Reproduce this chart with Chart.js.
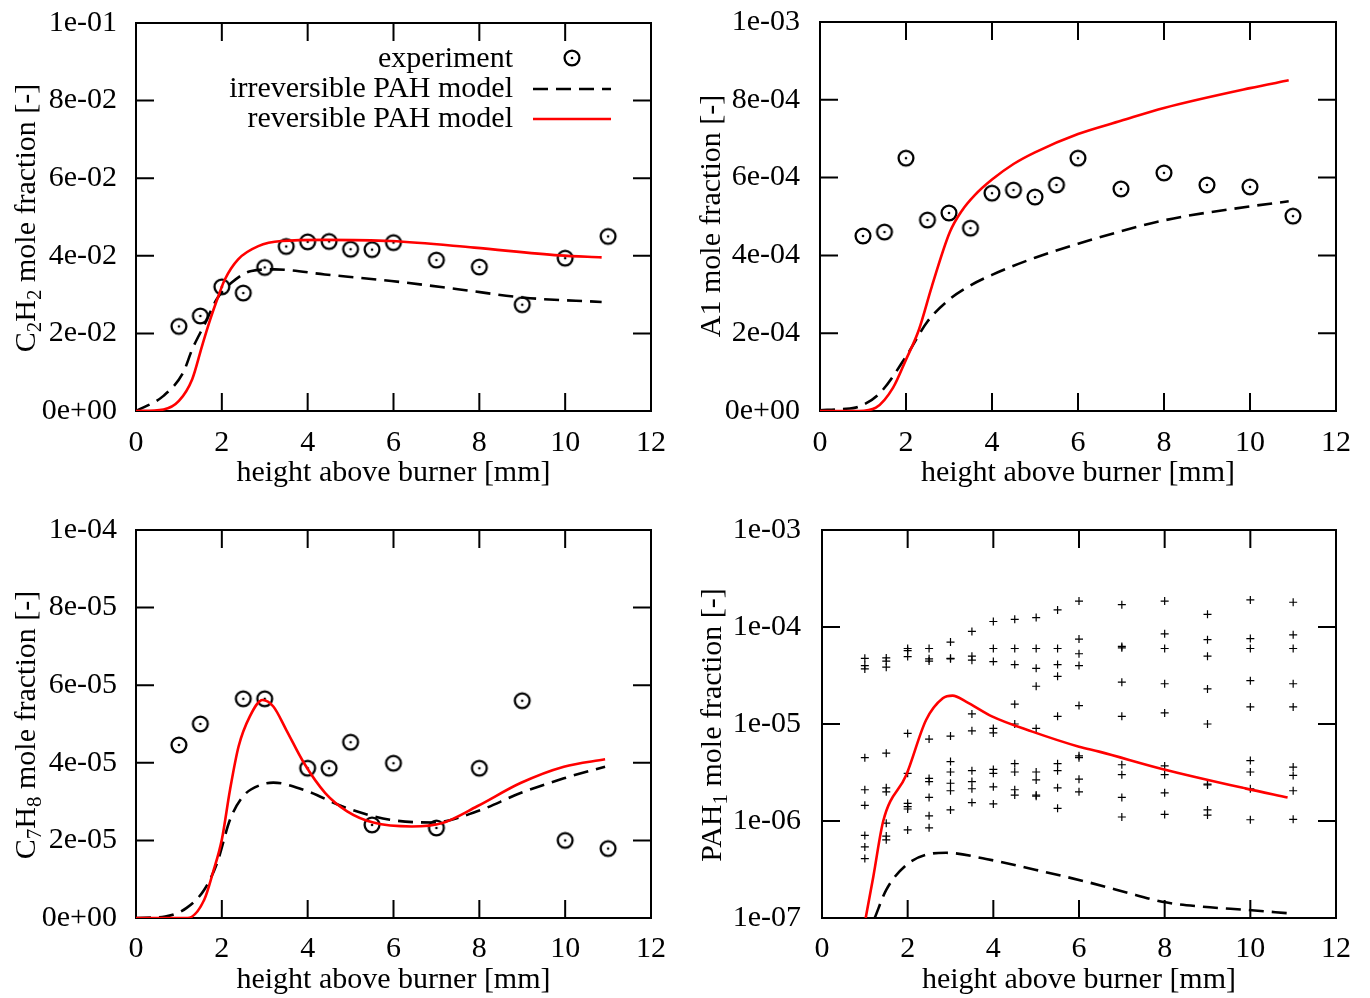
<!DOCTYPE html>
<html>
<head>
<meta charset="utf-8">
<script src="https://cdn.jsdelivr.net/npm/chart.js@4.4.1/dist/chart.umd.min.js"></script>
<style>
  html, body { margin: 0; padding: 0; background: #fff; }
  #wrap { position: relative; width: 1370px; height: 998px; }
  canvas { position: absolute; }
</style>
</head>
<body>
<div id="wrap">
  <canvas id="c2h2" width="685" height="499" style="left:0;top:0"></canvas>
  <canvas id="a1" width="685" height="499" style="left:685px;top:0"></canvas>
  <canvas id="c7h8" width="685" height="499" style="left:0;top:499px"></canvas>
  <canvas id="pah" width="685" height="499" style="left:685px;top:499px"></canvas>
</div>
<script>
// Flame species profiles: experiment vs. irreversible / reversible PAH model
const FONT = '"Liberation Serif", "Times New Roman", serif';
Chart.defaults.color = '#000';
Chart.defaults.font.family = FONT;
Chart.defaults.font.size = 30;

// shared x axis
const xTicks = [0, 2, 4, 6, 8, 10, 12];
const xTickLabels = ['0', '2', '4', '6', '8', '10', '12'];
const expHeights = [1, 1.5, 2, 2.5, 3, 3.5, 4, 4.5, 5, 5.5, 6, 7, 8, 9, 10, 11];

// C2H2
const c2h2Ticks = [0, 0.02, 0.04, 0.06, 0.08, 0.1];
const c2h2TickLabels = ['0e+00', '2e-02', '4e-02', '6e-02', '8e-02', '1e-01'];
const c2h2Exp = [0.0218, 0.0245, 0.0320, 0.0304, 0.0370, 0.0424, 0.0436, 0.0437, 0.0417, 0.0416, 0.0434, 0.0389, 0.0371, 0.0274, 0.0394, 0.0450];
const c2h2IrrX = [0, 0.64, 1.1, 1.31, 1.62, 1.88, 2.23, 2.69, 3.23, 4.4, 5.95, 7.5, 9.05, 10.85];
const c2h2IrrY = [0, 0.0039, 0.0099, 0.0159, 0.0228, 0.0288, 0.0331, 0.0361, 0.0365, 0.0352, 0.0335, 0.0314, 0.0292, 0.0281];
const c2h2RevX = [0, 0.64, 1.0, 1.31, 1.54, 1.73, 1.88, 2.07, 2.38, 2.85, 3.39, 4.4, 5.95, 7.88, 9.86, 10.85];
const c2h2RevY = [0, 0.0004, 0.0026, 0.0082, 0.0168, 0.0236, 0.0284, 0.0339, 0.0391, 0.0425, 0.0438, 0.0441, 0.0438, 0.0421, 0.0401, 0.0396];

// A1 (benzene)
const a1Ticks = [0, 2e-4, 4e-4, 6e-4, 8e-4, 1e-3];
const a1TickLabels = ['0e+00', '2e-04', '4e-04', '6e-04', '8e-04', '1e-03'];
const a1Exp = [4.50e-4, 4.60e-4, 6.50e-4, 4.91e-4, 5.09e-4, 4.70e-4, 5.60e-4, 5.68e-4, 5.50e-4, 5.81e-4, 6.50e-4, 5.71e-4, 6.12e-4, 5.81e-4, 5.76e-4, 5.01e-4];
const a1IrrX = [0, 0.5, 0.9, 1.4, 2.0, 2.5, 3.0, 3.5, 4.0, 5.0, 6.0, 8.0, 10.0, 10.9];
const a1IrrY = [2e-6, 5e-6, 1.1e-5, 4.7e-5, 1.4e-4, 2.3e-4, 2.86e-4, 3.23e-4, 3.5e-4, 3.94e-4, 4.3e-4, 4.9e-4, 5.26e-4, 5.39e-4];
const a1RevX = [0, 0.9, 1.3, 1.7, 2.0, 2.3, 2.6, 3.02, 3.3, 3.6, 4.0, 4.5, 5.0, 6.0, 7.0, 8.0, 10.0, 10.9];
const a1RevY = [0, 0, 8.5e-6, 6e-5, 1.32e-4, 2.09e-4, 3.2e-4, 4.6e-4, 5.15e-4, 5.55e-4, 5.95e-4, 6.35e-4, 6.65e-4, 7.12e-4, 7.46e-4, 7.79e-4, 8.3e-4, 8.5e-4];

// C7H8 (toluene)
const c7h8Ticks = [0, 2e-5, 4e-5, 6e-5, 8e-5, 1e-4];
const c7h8TickLabels = ['0e+00', '2e-05', '4e-05', '6e-05', '8e-05', '1e-04'];
const c7h8Heights = [1, 1.5, 2.5, 3, 4, 4.5, 5, 5.5, 6, 7, 8, 9, 10, 11];
const c7h8Exp = [4.46e-5, 5.0e-5, 5.65e-5, 5.65e-5, 3.86e-5, 3.86e-5, 4.53e-5, 2.40e-5, 3.99e-5, 2.32e-5, 3.86e-5, 5.6e-5, 2.0e-5, 1.79e-5];
const c7h8IrrX = [0, 0.68, 1.18, 1.59, 1.89, 2.19, 2.49, 2.9, 3.2, 3.91, 4.92, 5.93, 6.94, 7.95, 8.96, 9.97, 10.93];
const c7h8IrrY = [0, 4e-7, 2.6e-6, 7.3e-6, 1.42e-5, 2.53e-5, 3.13e-5, 3.43e-5, 3.49e-5, 3.3e-5, 2.83e-5, 2.53e-5, 2.46e-5, 2.75e-5, 3.22e-5, 3.6e-5, 3.9e-5];
const c7h8RevX = [0, 1.2, 1.59, 1.79, 2.0, 2.19, 2.39, 2.65, 2.95, 3.2, 3.5, 3.91, 4.41, 4.92, 5.53, 6.43, 7.14, 7.95, 8.96, 9.97, 10.93];
const c7h8RevY = [0, 0, 4.7e-6, 1.16e-5, 2.02e-5, 3.3e-5, 4.42e-5, 5.19e-5, 5.62e-5, 5.45e-5, 4.85e-5, 4.0e-5, 3.22e-5, 2.75e-5, 2.46e-5, 2.36e-5, 2.45e-5, 2.88e-5, 3.48e-5, 3.9e-5, 4.09e-5];

// PAH1 (log axis), one row of measured species per height
const pahTicks = [1e-7, 1e-6, 1e-5, 1e-4, 1e-3];
const pahTickLabels = ['1e-07', '1e-06', '1e-05', '1e-04', '1e-03'];
const pahSpecies = [
  [4.75e-5, 4.0e-5, 3.7e-5, 4.5e-6, 2.1e-6, 1.45e-6, 7.1e-7, 5.4e-7, 4.1e-7],
  [4.8e-5, 4.45e-5, 3.85e-5, 5.0e-6, 2.2e-6, 2.0e-6, 9.5e-7, 7.0e-7, 6.4e-7],
  [6.0e-5, 5.7e-5, 4.95e-5, 8.0e-6, 3.1e-6, 1.52e-6, 1.41e-6, 1.33e-6, 8.1e-7],
  [6.0e-5, 4.7e-5, 4.45e-5, 7.0e-6, 2.75e-6, 2.55e-6, 1.75e-6, 1.13e-6, 8.5e-7],
  [7.0e-5, 4.75e-5, 4.7e-5, 7.5e-6, 4.1e-6, 3.2e-6, 2.45e-6, 2.05e-6, 1.3e-6],
  [9.0e-5, 5.0e-5, 4.55e-5, 1.27e-5, 8.5e-6, 3.3e-6, 2.55e-6, 2.15e-6, 1.55e-6],
  [1.14e-4, 6.0e-5, 4.4e-5, 9.0e-6, 8.1e-6, 3.4e-6, 3.1e-6, 2.25e-6, 1.5e-6],
  [1.2e-4, 6.0e-5, 4.1e-5, 1.6e-5, 1.0e-5, 3.9e-6, 3.2e-6, 2.1e-6, 1.85e-6],
  [1.25e-4, 6.0e-5, 3.75e-5, 2.45e-5, 9.0e-6, 3.2e-6, 2.65e-6, 1.85e-6, 1.8e-6],
  [1.5e-4, 6.0e-5, 4.1e-5, 3.1e-5, 1.2e-5, 3.9e-6, 3.3e-6, 2.2e-6, 1.35e-6],
  [1.85e-4, 7.5e-5, 5.3e-5, 4.0e-5, 1.55e-5, 4.7e-6, 4.5e-6, 2.7e-6, 2.0e-6],
  [1.7e-4, 6.3e-5, 6.1e-5, 2.7e-5, 1.2e-5, 3.8e-6, 3.0e-6, 1.75e-6, 1.1e-6],
  [1.85e-4, 8.5e-5, 6.0e-5, 2.6e-5, 1.3e-5, 3.7e-6, 3.0e-6, 1.95e-6, 1.17e-6],
  [1.35e-4, 7.4e-5, 5.0e-5, 2.3e-5, 1.0e-5, 2.4e-6, 2.35e-6, 1.3e-6, 1.15e-6],
  [1.9e-4, 7.6e-5, 6.0e-5, 2.8e-5, 1.5e-5, 4.2e-6, 3.2e-6, 2.15e-6, 1.03e-6],
  [1.8e-4, 8.3e-5, 6.0e-5, 2.6e-5, 1.5e-5, 3.6e-6, 2.95e-6, 2.05e-6, 1.04e-6]
];
const pahIrrX = [1.23, 1.5, 1.97, 2.51, 2.9, 3.83, 5.0, 6.16, 7.32, 7.94, 8.87, 9.95, 10.88];
const pahIrrY = [1e-7, 1.95e-7, 3.52e-7, 4.57e-7, 4.7e-7, 4.06e-7, 3.13e-7, 2.37e-7, 1.73e-7, 1.47e-7, 1.31e-7, 1.21e-7, 1.12e-7];
const pahRevX = [1.02, 1.2, 1.43, 1.97, 2.43, 2.82, 3.05, 3.36, 3.98, 4.91, 6.0, 6.47, 7.94, 9.88, 10.87];
const pahRevY = [1e-7, 2.7e-7, 1.0e-6, 3.0e-6, 1.1e-5, 1.84e-5, 1.96e-5, 1.7e-5, 1.19e-5, 8.34e-6, 5.83e-6, 5.19e-6, 3.44e-6, 2.17e-6, 1.75e-6];

const RED = '#ff0000';
const DASH = [15, 8];
const TICK_LEN = 18;
const W = 685, H = 499;

const pts = (xs, ys) => xs.map((x, i) => ({ x: x, y: ys[i] }));

// circle-with-dot marker (gnuplot pt 6 style)
function ringDot() {
  const c = document.createElement('canvas');
  c.width = c.height = 22;
  const g = c.getContext('2d');
  g.strokeStyle = '#000';
  g.lineWidth = 2.3;
  g.beginPath(); g.arc(11, 11, 7.4, 0, Math.PI * 2); g.stroke();
  g.fillStyle = '#000';
  g.beginPath(); g.arc(11, 11, 1.3, 0, Math.PI * 2); g.fill();
  return c;
}
const RING = ringDot();

// box round the plot with inward ticks on all four sides
const framePlugin = {
  id: 'frame',
  beforeDatasetsDraw(chart) {
    const { ctx, chartArea: a, scales: { x, y } } = chart;
    ctx.save();
    ctx.strokeStyle = '#000';
    ctx.lineWidth = 2;
    ctx.beginPath();
    x.ticks.forEach(t => {
      const px = x.getPixelForValue(t.value);
      ctx.moveTo(px, a.bottom); ctx.lineTo(px, a.bottom - TICK_LEN);
      ctx.moveTo(px, a.top); ctx.lineTo(px, a.top + TICK_LEN);
    });
    y.ticks.forEach(t => {
      const py = y.getPixelForValue(t.value);
      ctx.moveTo(a.left, py); ctx.lineTo(a.left + TICK_LEN, py);
      ctx.moveTo(a.right, py); ctx.lineTo(a.right - TICK_LEN, py);
    });
    ctx.stroke();
    ctx.strokeRect(a.left, a.top, a.right - a.left, a.bottom - a.top);
    ctx.restore();
  }
};

// rotated y title with subscripts
const yTitlePlugin = {
  id: 'yTitle',
  afterDraw(chart, args, opts) {
    if (!opts.parts) return;
    const ctx = chart.ctx;
    const big = '30px ' + FONT, small = '21px ' + FONT;
    ctx.save();
    let total = 0;
    opts.parts.forEach(p => { ctx.font = p.sub ? small : big; total += ctx.measureText(p.text).width; });
    ctx.translate(opts.x, opts.y);
    ctx.rotate(-Math.PI / 2);
    ctx.fillStyle = '#000';
    ctx.textAlign = 'left';
    ctx.textBaseline = 'alphabetic';
    let cur = -total / 2;
    opts.parts.forEach(p => {
      ctx.font = p.sub ? small : big;
      ctx.fillText(p.text, cur, p.sub ? 6 : 0);
      cur += ctx.measureText(p.text).width;
    });
    ctx.restore();
  }
};

// gnuplot-style key: text right aligned, sample on the right
const keyPlugin = {
  id: 'key',
  afterDraw(chart, args, opts) {
    if (!opts.rows) return;
    const ctx = chart.ctx;
    ctx.save();
    ctx.font = '30px ' + FONT;
    ctx.fillStyle = '#000';
    ctx.textAlign = 'right';
    ctx.textBaseline = 'middle';
    opts.rows.forEach(r => {
      ctx.fillText(r.text, opts.textX, r.y);
      if (r.kind === 'ring') {
        ctx.drawImage(RING, (opts.x0 + opts.x1) / 2 - 11, r.y - 12);
      } else {
        ctx.strokeStyle = r.color;
        ctx.lineWidth = 2.6;
        ctx.setLineDash(r.dash || []);
        ctx.beginPath();
        ctx.moveTo(opts.x0, r.y); ctx.lineTo(opts.x1, r.y);
        ctx.stroke();
      }
    });
    ctx.restore();
  }
};

function lineSet(data, color, dash) {
  return {
    data: data, showLine: true, pointRadius: 0, borderColor: color,
    borderWidth: 2.6, borderDash: dash || [], cubicInterpolationMode: 'monotone', fill: false
  };
}

function makePanel(id, p) {
  const a = p.area;
  return new Chart(document.getElementById(id), {
    type: 'scatter',
    data: { datasets: p.datasets },
    options: {
      responsive: false, animation: false, devicePixelRatio: 1,
      layout: { padding: { left: 0, top: a.top, right: W - a.right, bottom: 0 } },
      plugins: {
        legend: { display: false },
        tooltip: { enabled: false },
        yTitle: p.yTitle,
        key: p.key || {}
      },
      scales: {
        x: {
          type: 'linear', min: 0, max: 12,
          grid: { display: false, drawTicks: false },
          border: { display: false },
          afterBuildTicks: s => { s.ticks = xTicks.map(v => ({ value: v })); },
          afterFit: s => { s.height = H - a.bottom; s.paddingLeft = 0; s.paddingRight = 0; },
          ticks: { padding: p.xPad, autoSkip: false, maxRotation: 0, callback: (v, i) => xTickLabels[i] },
          title: { display: true, text: 'height above burner [mm]', padding: { top: 0, bottom: p.titlePad } }
        },
        y: {
          type: p.yType || 'linear', min: p.yTicks[0], max: p.yTicks[p.yTicks.length - 1],
          grid: { display: false, drawTicks: false },
          border: { display: false },
          afterBuildTicks: s => { s.ticks = p.yTicks.map(v => ({ value: v })); },
          afterFit: s => { s.width = a.left; s.paddingTop = 0; s.paddingBottom = 0; },
          ticks: { padding: p.yPad, autoSkip: false, callback: (v, i) => p.yLabels[i] }
        }
      }
    },
    plugins: [framePlugin, yTitlePlugin, keyPlugin]
  });
}

makePanel('c2h2', {
  area: { left: 136, top: 23, right: 651, bottom: 411 },
  xPad: 14, titlePad: 8, yPad: 19,
  yTicks: c2h2Ticks, yLabels: c2h2TickLabels,
  yTitle: { x: 35, y: 218, parts: [{ text: 'C' }, { text: '2', sub: true }, { text: 'H' }, { text: '2', sub: true }, { text: ' mole fraction [-]' }] },
  key: {
    textX: 513, x0: 533, x1: 611,
    rows: [
      { text: 'experiment', y: 59, kind: 'ring' },
      { text: 'irreversible PAH model', y: 89, color: '#000', dash: DASH },
      { text: 'reversible PAH model', y: 119, color: RED }
    ]
  },
  datasets: [
    lineSet(pts(c2h2RevX, c2h2RevY), RED),
    lineSet(pts(c2h2IrrX, c2h2IrrY), '#000', DASH),
    { data: pts(expHeights, c2h2Exp), pointStyle: RING, pointRadius: 8 }
  ]
});

makePanel('a1', {
  area: { left: 135, top: 22, right: 651, bottom: 411 },
  xPad: 14, titlePad: 8, yPad: 20,
  yTicks: a1Ticks, yLabels: a1TickLabels,
  yTitle: { x: 35, y: 216, parts: [{ text: 'A1 mole fraction [-]' }] },
  datasets: [
    lineSet(pts(a1RevX, a1RevY), RED),
    lineSet(pts(a1IrrX, a1IrrY), '#000', DASH),
    { data: pts(expHeights, a1Exp), pointStyle: RING, pointRadius: 8 }
  ]
});

makePanel('c7h8', {
  area: { left: 136, top: 31, right: 651, bottom: 419 },
  xPad: 13, titlePad: 0, yPad: 19,
  yTicks: c7h8Ticks, yLabels: c7h8TickLabels,
  yTitle: { x: 35, y: 226, parts: [{ text: 'C' }, { text: '7', sub: true }, { text: 'H' }, { text: '8', sub: true }, { text: ' mole fraction [-]' }] },
  datasets: [
    lineSet(pts(c7h8RevX, c7h8RevY), RED),
    lineSet(pts(c7h8IrrX, c7h8IrrY), '#000', DASH),
    { data: pts(c7h8Heights, c7h8Exp), pointStyle: RING, pointRadius: 8 }
  ]
});

const pahPoints = pahSpecies.flatMap((row, i) => row.map(v => ({ x: expHeights[i], y: v })));

makePanel('pah', {
  area: { left: 137, top: 31, right: 651, bottom: 419 },
  xPad: 13, titlePad: 0, yPad: 21, yType: 'logarithmic',
  yTicks: pahTicks, yLabels: pahTickLabels,
  yTitle: { x: 36, y: 226, parts: [{ text: 'PAH' }, { text: '1', sub: true }, { text: ' mole fraction [-]' }] },
  datasets: [
    lineSet(pts(pahRevX, pahRevY), RED),
    lineSet(pts(pahIrrX, pahIrrY), '#000', DASH),
    { data: pahPoints, pointStyle: 'cross', pointRadius: 4, borderColor: '#000', borderWidth: 1.2 }
  ]
});
</script>
</body>
</html>
